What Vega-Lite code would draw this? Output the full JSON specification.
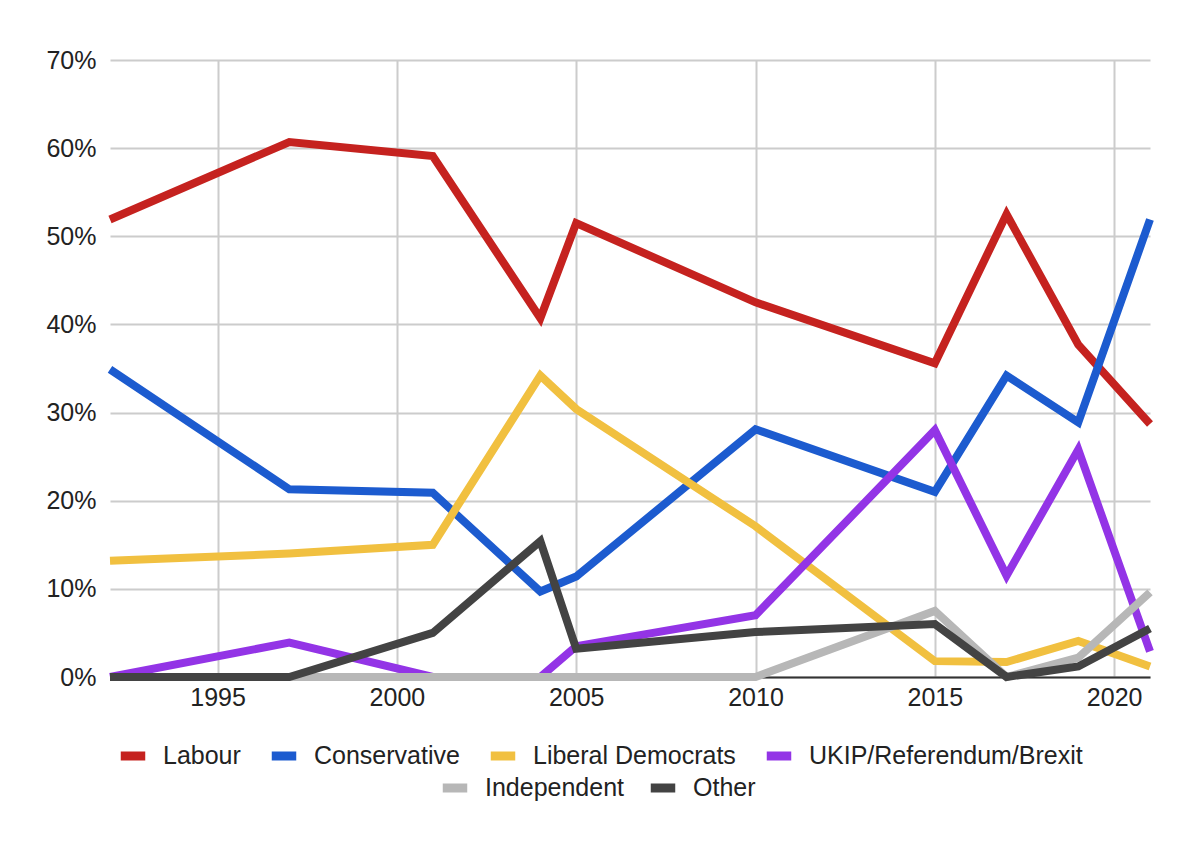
{
  "$schema": "https://vega.github.io/schema/vega-lite/v6.json",
  "width": 1040,
  "height": 617,
  "autosize": {"type": "none"},
  "padding": {"left": 110, "top": 60, "right": 50, "bottom": 171},
  "background": "white",
  "config": {
    "view": {"stroke": null},
    "font": "Liberation Sans",
    "axis": {"labelFont": "Liberation Sans", "labelFontSize": 25, "labelColor": "#222222", "gridColor": "#cccccc", "gridWidth": 2, "ticks": false, "title": null},
    "legend": {"labelFont": "Liberation Sans", "labelFontSize": 25, "labelColor": "#222222", "labelLimit": 0}
  },
  "datasets": {
    "main": [
      {"year": 1992, "party": "Labour", "share": 51.9},
      {"year": 1997, "party": "Labour", "share": 60.7},
      {"year": 2001, "party": "Labour", "share": 59.1},
      {"year": 2004, "party": "Labour", "share": 40.7},
      {"year": 2005, "party": "Labour", "share": 51.5},
      {"year": 2010, "party": "Labour", "share": 42.5},
      {"year": 2015, "party": "Labour", "share": 35.6},
      {"year": 2017, "party": "Labour", "share": 52.5},
      {"year": 2019, "party": "Labour", "share": 37.7},
      {"year": 2021, "party": "Labour", "share": 28.7},
      {"year": 1992, "party": "Conservative", "share": 34.9},
      {"year": 1997, "party": "Conservative", "share": 21.3},
      {"year": 2001, "party": "Conservative", "share": 20.9},
      {"year": 2004, "party": "Conservative", "share": 9.7},
      {"year": 2005, "party": "Conservative", "share": 11.4},
      {"year": 2010, "party": "Conservative", "share": 28.1},
      {"year": 2015, "party": "Conservative", "share": 21.0},
      {"year": 2017, "party": "Conservative", "share": 34.2},
      {"year": 2019, "party": "Conservative", "share": 28.9},
      {"year": 2021, "party": "Conservative", "share": 51.9},
      {"year": 1992, "party": "Liberal Democrats", "share": 13.2},
      {"year": 1997, "party": "Liberal Democrats", "share": 14.0},
      {"year": 2001, "party": "Liberal Democrats", "share": 15.0},
      {"year": 2004, "party": "Liberal Democrats", "share": 34.2},
      {"year": 2005, "party": "Liberal Democrats", "share": 30.4},
      {"year": 2010, "party": "Liberal Democrats", "share": 17.1},
      {"year": 2015, "party": "Liberal Democrats", "share": 1.8},
      {"year": 2017, "party": "Liberal Democrats", "share": 1.7},
      {"year": 2019, "party": "Liberal Democrats", "share": 4.1},
      {"year": 2021, "party": "Liberal Democrats", "share": 1.2},
      {"year": 1992, "party": "UKIP/Referendum/Brexit", "share": 0},
      {"year": 1997, "party": "UKIP/Referendum/Brexit", "share": 3.9},
      {"year": 2001, "party": "UKIP/Referendum/Brexit", "share": 0},
      {"year": 2004, "party": "UKIP/Referendum/Brexit", "share": 0},
      {"year": 2005, "party": "UKIP/Referendum/Brexit", "share": 3.5},
      {"year": 2010, "party": "UKIP/Referendum/Brexit", "share": 7.0},
      {"year": 2015, "party": "UKIP/Referendum/Brexit", "share": 28.0},
      {"year": 2017, "party": "UKIP/Referendum/Brexit", "share": 11.5},
      {"year": 2019, "party": "UKIP/Referendum/Brexit", "share": 25.8},
      {"year": 2021, "party": "UKIP/Referendum/Brexit", "share": 2.9}
    ],
    "minor": [
      {"year": 1992, "party": "Independent", "share": 0},
      {"year": 1997, "party": "Independent", "share": 0},
      {"year": 2001, "party": "Independent", "share": 0},
      {"year": 2004, "party": "Independent", "share": 0},
      {"year": 2005, "party": "Independent", "share": 0},
      {"year": 2010, "party": "Independent", "share": 0},
      {"year": 2015, "party": "Independent", "share": 7.5},
      {"year": 2017, "party": "Independent", "share": 0},
      {"year": 2019, "party": "Independent", "share": 2.2},
      {"year": 2021, "party": "Independent", "share": 9.6},
      {"year": 1992, "party": "Other", "share": 0},
      {"year": 1997, "party": "Other", "share": 0},
      {"year": 2001, "party": "Other", "share": 5.0},
      {"year": 2004, "party": "Other", "share": 15.4},
      {"year": 2005, "party": "Other", "share": 3.2},
      {"year": 2010, "party": "Other", "share": 5.1},
      {"year": 2015, "party": "Other", "share": 6.0},
      {"year": 2017, "party": "Other", "share": 0},
      {"year": 2019, "party": "Other", "share": 1.2},
      {"year": 2021, "party": "Other", "share": 5.5}
    ]
  },
  "encoding": {
    "x": {
      "field": "year", "type": "quantitative",
      "scale": {"domain": [1992, 2021], "nice": false, "zero": false},
      "axis": {"values": [1995, 2000, 2005, 2010, 2015, 2020], "format": "d", "labelPadding": 8, "domain": true, "domainColor": "#333333", "domainWidth": 2, "labelFlush": false}
    },
    "y": {
      "field": "share", "type": "quantitative",
      "scale": {"domain": [0, 70], "nice": false},
      "axis": {"values": [0, 10, 20, 30, 40, 50, 60, 70], "labelExpr": "datum.value + '%'", "labelPadding": 14, "domain": false}
    }
  },
  "layer": [
    {
      "data": {"name": "main"},
      "mark": {"type": "line", "strokeWidth": 8, "strokeJoin": "miter", "strokeCap": "butt"},
      "encoding": {
        "color": {
          "field": "party", "type": "nominal",
          "scale": {"domain": ["Labour", "Conservative", "Liberal Democrats", "UKIP/Referendum/Brexit"], "range": ["#c5221f", "#1c5bcf", "#f1c040", "#9334e6"]},
          "legend": {"title": null, "orient": "none", "direction": "horizontal", "legendX": 6, "legendY": 679, "symbolType": "stroke", "symbolStrokeWidth": 9, "symbolSize": 600, "labelOffset": 13, "columnPadding": 12, "padding": 0}
        }
      }
    },
    {
      "data": {"name": "minor"},
      "mark": {"type": "line", "strokeWidth": 8, "strokeJoin": "miter", "strokeCap": "butt"},
      "encoding": {
        "stroke": {
          "field": "party", "type": "nominal",
          "scale": {"domain": ["Independent", "Other"], "range": ["#b7b7b7", "#434343"]},
          "legend": {"title": null, "orient": "none", "direction": "horizontal", "legendX": 328, "legendY": 711, "symbolType": "stroke", "symbolStrokeWidth": 9, "symbolSize": 600, "labelOffset": 13, "columnPadding": 7, "padding": 0}
        }
      }
    }
  ]
}
